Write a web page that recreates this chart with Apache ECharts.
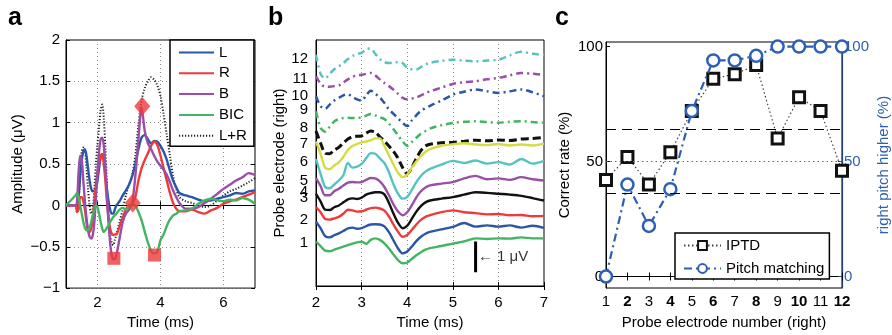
<!DOCTYPE html>
<html><head><meta charset="utf-8">
<script src="https://cdn.jsdelivr.net/npm/echarts@6/dist/echarts.min.js"></script>
<style>html,body{margin:0;padding:0;background:#fff}#c{width:892px;height:335px}</style>
</head><body><div id="c"></div>
<script>
// ---------- Panel a ----------
const timeA = [1.0,1.3,1.35,1.4,1.45,1.5,1.55,1.6,1.65,1.7,1.75,1.8,1.85,1.9,1.95,2.0,2.05,2.1,2.15,2.2,2.25,2.3,2.35,2.4,2.45,2.5,2.55,2.6,2.7,2.8,2.9,3.0,3.1,3.2,3.3,3.4,3.5,3.6,3.7,3.8,3.9,4.0,4.1,4.2,4.3,4.4,4.5,4.6,4.8,5.0,5.2,5.4,5.6,5.8,6.0,6.2,6.4,6.6,6.8,7.0];
const ampL = [0,0,0,0.1,0.35,0.55,0.65,0.68,0.6,0.45,0.3,0.2,0.17,0.18,0.2,0.3,0.45,0.58,0.62,0.58,0.4,0.2,0.05,-0.05,-0.1,-0.1,-0.05,0.0,0.05,0.12,0.18,0.25,0.35,0.5,0.68,0.82,0.85,0.8,0.75,0.78,0.77,0.72,0.65,0.55,0.42,0.3,0.22,0.15,0.12,0.1,0.07,0.05,0.06,0.08,0.1,0.12,0.15,0.14,0.17,0.18];
const ampR = [0,0,-0.08,-0.05,0.1,0.1,0.05,-0.05,-0.2,-0.3,-0.32,-0.28,-0.15,0.05,0.25,0.4,0.5,0.6,0.62,0.5,0.3,0.05,-0.15,-0.28,-0.34,-0.36,-0.35,-0.35,-0.25,-0.15,-0.05,0.0,0.02,0.1,0.3,0.45,0.55,0.63,0.72,0.77,0.73,0.6,0.45,0.3,0.15,0.03,-0.04,-0.07,-0.07,-0.05,-0.08,-0.1,-0.06,-0.03,0.02,0.05,0.07,0.1,0.13,0.16];
const ampB = [0,0,0.05,0.4,0.6,0.55,0.3,0.05,-0.15,-0.3,-0.38,-0.4,-0.36,-0.2,0.1,0.4,0.65,0.8,0.82,0.72,0.45,0.1,-0.2,-0.45,-0.6,-0.65,-0.65,-0.6,-0.4,-0.2,-0.1,-0.05,0.03,0.35,0.8,1.18,0.9,0.75,0.68,0.6,0.53,0.48,0.43,0.37,0.28,0.18,0.1,0.03,-0.04,-0.04,-0.02,0.03,0.08,0.14,0.2,0.25,0.3,0.34,0.39,0.37];
const ampBIC = [0,0.12,0.15,0.1,0.0,-0.1,-0.2,-0.27,-0.3,-0.3,-0.27,-0.2,-0.12,-0.05,0.0,-0.02,-0.1,-0.2,-0.28,-0.32,-0.3,-0.27,-0.24,-0.2,-0.17,-0.14,-0.12,-0.1,-0.05,-0.03,-0.05,-0.02,0.02,0.0,-0.08,-0.18,-0.32,-0.45,-0.55,-0.58,-0.56,-0.42,-0.35,-0.25,-0.17,-0.12,-0.1,-0.07,-0.06,-0.04,0.02,0.06,0.08,0.06,0.05,0.07,0.06,0.09,0.07,0.02];
const ampLR = [0,0,-0.08,0.05,0.45,0.65,0.7,0.68,0.45,0.2,0.0,-0.1,-0.05,0.2,0.5,0.75,0.95,1.15,1.22,1.05,0.7,0.25,-0.1,-0.35,-0.45,-0.48,-0.42,-0.35,-0.2,-0.05,0.12,0.25,0.37,0.6,0.98,1.27,1.42,1.5,1.55,1.52,1.45,1.32,1.1,0.85,0.6,0.35,0.2,0.1,0.05,0.03,0.0,-0.02,0.0,0.06,0.12,0.17,0.2,0.24,0.28,0.33];
const peakSquares = [[2.52,-0.64],[3.81,-0.6]];
const peakDiamonds = [[3.12,0.03],[3.42,1.2]];

// ---------- Panel b ----------
const timeB = [2.0,2.1,2.2,2.3,2.4,2.5,2.6,2.7,2.8,2.9,3.0,3.1,3.2,3.3,3.4,3.5,3.6,3.7,3.8,3.9,4.0,4.1,4.2,4.3,4.4,4.5,4.75,5.0,5.25,5.5,5.75,6.0,6.25,6.5,6.75,7.0];
const probe1 = [1.44,1.30,1.15,1.13,1.18,1.23,1.28,1.33,1.38,1.42,1.44,1.37,1.50,1.55,1.50,1.39,1.22,1.02,0.84,0.74,0.76,0.88,1.00,1.10,1.18,1.23,1.30,1.38,1.45,1.55,1.53,1.55,1.54,1.58,1.55,1.55];
const probe2 = [2.09,1.88,1.62,1.58,1.65,1.71,1.79,1.87,1.90,1.86,1.88,1.95,2.00,2.01,2.00,1.94,1.75,1.48,1.22,1.06,1.12,1.28,1.46,1.60,1.70,1.76,1.84,1.92,2.05,1.93,1.97,1.93,1.97,1.90,1.96,1.89];
const probe3 = [2.57,2.40,2.18,2.16,2.20,2.25,2.35,2.48,2.46,2.42,2.43,2.48,2.53,2.55,2.52,2.45,2.26,2.00,1.76,1.60,1.66,1.82,2.00,2.15,2.25,2.30,2.40,2.46,2.40,2.37,2.33,2.34,2.30,2.31,2.27,2.28];
const probe4 = [3.00,2.75,2.48,2.47,2.56,2.62,2.72,2.82,2.85,2.83,2.87,2.97,3.02,3.05,3.05,2.98,2.70,2.35,2.05,1.88,1.96,2.18,2.42,2.60,2.72,2.78,2.84,2.89,2.97,3.05,3.03,3.00,2.97,2.93,2.86,2.78];
const probe5 = [3.51,3.25,2.95,2.95,3.08,3.16,3.27,3.36,3.38,3.37,3.38,3.45,3.51,3.50,3.40,3.22,2.95,2.65,2.42,2.30,2.40,2.62,2.88,3.08,3.20,3.27,3.33,3.38,3.50,3.58,3.47,3.50,3.45,3.54,3.47,3.43];
const probe6 = [4.13,3.65,3.22,3.18,3.30,3.43,3.60,4.00,3.85,3.88,3.97,4.15,4.32,4.30,4.15,4.00,3.70,3.30,3.00,2.84,2.90,3.12,3.38,3.58,3.72,3.81,3.95,4.07,4.00,4.08,3.98,4.03,3.95,4.13,3.98,4.07];
const probe7 = [4.70,4.30,3.85,3.80,3.92,4.02,4.20,4.42,4.55,4.62,4.67,4.70,4.74,4.80,4.80,4.55,4.25,3.95,3.68,3.54,3.62,3.85,4.05,4.22,4.36,4.45,4.56,4.61,4.64,4.60,4.58,4.62,4.57,4.60,4.57,4.63];
const probe8 = [5.04,4.65,4.32,4.30,4.42,4.51,4.65,4.78,4.85,4.87,4.88,4.97,5.04,5.00,4.85,4.72,4.55,4.38,4.15,3.85,3.65,3.85,4.15,4.40,4.55,4.61,4.66,4.67,4.71,4.74,4.72,4.75,4.73,4.78,4.80,4.83];
const probe9 = [5.68,5.15,5.02,5.18,5.35,5.43,5.46,5.47,5.46,5.47,5.48,5.54,5.59,5.55,5.49,5.43,5.28,5.10,4.90,4.70,4.56,4.68,4.82,4.95,5.04,5.12,5.23,5.30,5.34,5.36,5.33,5.31,5.34,5.36,5.33,5.31];
const probe10 = [6.17,5.85,5.76,5.90,6.03,6.12,6.20,6.23,6.15,6.07,6.03,6.20,6.35,6.25,6.13,5.95,5.74,5.60,5.45,5.30,5.20,5.38,5.55,5.70,5.78,5.86,6.03,6.22,6.32,6.39,6.33,6.28,6.33,6.39,6.30,6.17];
const probe11 = [6.82,6.58,6.48,6.48,6.50,6.52,6.62,6.72,6.80,6.85,6.87,6.90,6.93,6.85,6.72,6.60,6.50,6.38,6.25,6.12,6.07,6.10,6.13,6.20,6.27,6.33,6.45,6.57,6.63,6.66,6.72,6.77,6.85,6.93,6.90,6.87];
const probe12 = [7.52,6.90,6.75,6.90,7.05,7.14,7.25,7.38,7.48,7.55,7.58,7.70,7.72,7.55,7.38,7.28,7.25,7.27,7.28,7.25,7.10,7.05,7.04,7.12,7.20,7.26,7.32,7.36,7.33,7.31,7.33,7.36,7.50,7.62,7.55,7.52];
const probeTickPos = [1.39,2.14,2.87,3.06,3.43,4.05,4.61,5.15,5.74,6.17,6.74,7.38];
const probeTickText = ['1','2','3','4','5','6','7','8','9','10','11','12'];
const scaleBar = [[5.5,0.45],[5.5,1.45]];
const scaleBarLabelAt = [[5.55,0.95]];

// ---------- Panel c ----------
const electrodes = [1,2,3,4,5,6,7,8,9,10,11,12];
const iptdCorrect = [42,52,40,54,72,86,88,92,60,78,72,46];
const pitchHigher = [0,40,22,38,72,94,94,96,100,100,100,100];
const chanceBounds = [36,64];
const chanceLevel = 50;

// ---------- styles ----------
const FONT = 'Liberation Sans, Arial, Helvetica, sans-serif';
const C = {L:'#2a56a8', R:'#ee3a3a', B:'#9b4ea6', BIC:'#43b461', LR:'#222'};
const probeColors = ['#43b461','#2a56a8','#ee3a3a','#111111','#9b4ea6','#55c4c0','#d6dc40','#111111','#43b461','#2a56a8','#9b4ea6','#55c4c0'];
const probeDash = ['solid','solid','solid','solid','solid','solid','solid',[8,4],[7,4,2,4],[7,4,2,4],[7,4,2,4],[7,4,2,4]];
const probeWidth = [2.4,2.4,2.4,2.4,2.4,2.4,2.4,3,2.5,2.5,2.5,2.5];
const BLUE = '#2d5fb3';

const pairs = (xs, ys) => xs.map((x,i)=>[x, ys[i]]);
const txt = {fontFamily: FONT, fontSize: 15, color: '#000'};
const minus = v => String(v).replace('-', '\u2212');

const probes = [probe1,probe2,probe3,probe4,probe5,probe6,probe7,probe8,probe9,probe10,probe11,probe12];

const series = [];
// panel a
[['L',ampL,C.L,'solid'],['R',ampR,C.R,'solid'],['B',ampB,C.B,'solid'],['BIC',ampBIC,C.BIC,'solid'],['L+R',ampLR,C.LR,[1.2,1.8]]].forEach(([n,arr,col,type])=>{
  series.push({name:n, type:'line', xAxisIndex:0, yAxisIndex:0, data:pairs(timeA,arr), showSymbol:false, symbol:'none', smooth:0.3,
    lineStyle:{color:col, width: n==='L+R'?2:2.4, type}, itemStyle:{color:col}, z: n==='L+R'?1:2});
});
series.push({type:'scatter', xAxisIndex:0, yAxisIndex:0, data:peakSquares, symbol:'rect', symbolSize:13, itemStyle:{color:'#ee3a3a'}, z:5});
series.push({type:'scatter', xAxisIndex:0, yAxisIndex:0, data:peakDiamonds, symbol:'diamond', symbolSize:[16,19], itemStyle:{color:'#ee3a3a'}, z:5});
// panel b
probes.forEach((arr,i)=>{
  series.push({name:'E'+(i+1), type:'line', xAxisIndex:2, yAxisIndex:2, data:pairs(timeB,arr), showSymbol:false, symbol:'none', smooth:0.3,
    lineStyle:{color:probeColors[i], width:probeWidth[i], type:probeDash[i]}, z: 12-i});
});
series.push({type:'line', xAxisIndex:2, yAxisIndex:2, data:scaleBar, symbol:'none', lineStyle:{color:'#000', width:3}});
series.push({type:'scatter', xAxisIndex:2, yAxisIndex:2, data:scaleBarLabelAt, symbolSize:0,
  label:{show:true, position:'right', distance:0, formatter:'\u2190 1 \u03bcV', fontFamily:FONT, fontSize:15, color:'#000'}});
// panel c
series.push({name:'IPTD', type:'line', xAxisIndex:4, yAxisIndex:4, data:pairs(electrodes,iptdCorrect), symbol:'rect', symbolSize:11,
  lineStyle:{color:'#444', width:1.2, type:[1.5,2.5]}, itemStyle:{color:'#fff', borderColor:'#111', borderWidth:3}, z:3,
  markLine:{silent:true, symbol:'none', label:{show:false}, animation:false,
    data:[{yAxis:chanceBounds[0], lineStyle:{type:[10,6], color:'#000', width:1}},
          {yAxis:chanceBounds[1], lineStyle:{type:[10,6], color:'#000', width:1}},
          {yAxis:chanceLevel, lineStyle:{type:[1.5,3], color:'#666', width:1}}]}});
series.push({name:'Pitch matching', type:'line', xAxisIndex:4, yAxisIndex:5, data:pairs(electrodes,pitchHigher), symbol:'circle', symbolSize:12,
  lineStyle:{color:BLUE, width:2.2, type:[8,4,2,4]}, itemStyle:{color:'#fff', borderColor:BLUE, borderWidth:2.5}, z:4});

const baseAxis = {axisLine:{lineStyle:{color:'#000', width:1}}, axisTick:{inside:true, length:4, lineStyle:{color:'#000'}},
  axisLabel:{...txt}, nameTextStyle:{...txt}, splitLine:{show:false}};

const option = {
  animation:false,
  textStyle:{fontFamily:FONT},
  grid:[
    {left:66, top:40, width:189, height:251, show:true, borderColor:'#000', borderWidth:1, backgroundColor:'transparent'},
    {left:316, top:40, width:228, height:248, show:true, borderColor:'#000', borderWidth:1},
    {left:606, top:42, width:237, height:251, show:true, borderColor:'#000', borderWidth:1}
  ],
  xAxis:[
    {...baseAxis, gridIndex:0, type:'value', min:1, max:7, name:'Time (ms)', nameLocation:'middle', nameGap:26,
      axisTick:{...baseAxis.axisTick, customValues:[2,4,6]}, axisLabel:{...txt, margin:7, customValues:[2,4,6]},
      splitLine:{show:true, lineStyle:{color:'#888', type:[1,3]}}},
    {gridIndex:0, type:'value', position:'top', min:1, max:7, axisLine:{show:false}, axisLabel:{show:false},
      axisTick:{inside:true, length:4, customValues:[2,4,6], lineStyle:{color:'#000'}}, splitLine:{show:false}},
    {...baseAxis, gridIndex:1, type:'value', min:2, max:7, interval:1, name:'Time (ms)', nameLocation:'middle', nameGap:29,
      axisLabel:{...txt, margin:9}, splitLine:{show:true, lineStyle:{color:'#888', type:[1,3]}}},
    {gridIndex:1, type:'value', position:'top', min:2, max:7, interval:1, axisLine:{show:false}, axisLabel:{show:false},
      axisTick:{inside:true, length:4, lineStyle:{color:'#000'}}, splitLine:{show:false}},
    {...baseAxis, gridIndex:2, type:'value', min:1, max:12, interval:1, name:'Probe electrode number (right)', nameLocation:'middle', nameGap:27,
      axisLabel:{...txt, margin:6, formatter: v => (v % 2 === 0 ? '{b|' + v + '}' : String(v)), rich:{b:{fontFamily:FONT, fontSize:15, fontWeight:'bold', color:'#000'}}}},
    {gridIndex:2, type:'value', position:'top', min:1, max:12, interval:1, axisLine:{show:false}, axisLabel:{show:false},
      axisTick:{inside:true, length:4, lineStyle:{color:'#000'}}, splitLine:{show:false}}
  ],
  yAxis:[
    {...baseAxis, gridIndex:0, type:'value', min:-1, max:2, interval:0.5, name:'Amplitude (\u03bcV)', nameLocation:'middle', nameGap:41,
      axisLabel:{...txt, margin:6, formatter: minus}, splitLine:{show:true, lineStyle:{color:'#888', type:[1,3]}}},
    {gridIndex:0, type:'value', position:'right', min:-1, max:2, interval:0.5, axisLine:{show:false}, axisLabel:{show:false},
      axisTick:{inside:true, length:4, lineStyle:{color:'#000'}}, splitLine:{show:false}},
    {...baseAxis, gridIndex:1, type:'value', min:0, max:8, name:'Probe electrode (right)', nameLocation:'middle', nameGap:26,
      axisTick:{show:false}, axisLabel:{...txt, margin:8, customValues:probeTickPos,
        formatter: v => { let k=0, d=1e9; probeTickPos.forEach((p,i)=>{ if (Math.abs(p-v)<d){d=Math.abs(p-v);k=i;} }); return probeTickText[k]; }}},
    {gridIndex:1, type:'value', position:'right', min:0, max:8, show:false},
    {...baseAxis, gridIndex:2, type:'value', min:-5, max:102, name:'Correct rate (%)', nameLocation:'middle', nameGap:34,
      axisTick:{...baseAxis.axisTick, customValues:[0,50,100]}, axisLabel:{...txt, margin:3, customValues:[0,50,100]}},
    {gridIndex:2, type:'value', position:'right', min:-5, max:102, name:'right pitch higher (%)', nameLocation:'middle', nameGap:34, nameRotate:90,
      nameTextStyle:{...txt, color:BLUE}, axisLine:{show:true, lineStyle:{color:'#23407a', width:1.2}},
      axisTick:{inside:true, length:4, customValues:[0,50,100], lineStyle:{color:'#23407a'}},
      axisLabel:{...txt, color:BLUE, margin:2, customValues:[0,50,100]}, splitLine:{show:false}}
  ],
  legend:[
    {data:['L','R','B','BIC','L+R'], left:170, top:40, orient:'vertical', itemWidth:35, itemHeight:14, itemGap:5.8, padding:[5,7,3,8],
      backgroundColor:'#fff', borderColor:'#000', borderWidth:1.5, borderRadius:0, textStyle:{...txt}, selectedMode:false,
      itemStyle:{opacity:0}},
    {data:['IPTD','Pitch matching'], left:675, top:233, orient:'vertical', itemWidth:37, itemHeight:11, itemGap:8, padding:[5,5,3,8],
      backgroundColor:'#fff', borderColor:'#000', borderWidth:1.5, borderRadius:0, textStyle:{...txt}, selectedMode:false}
  ],
  graphic:[
    {type:'text', left:8, top:6, style:{text:'a', font:'bold 25px '+FONT, fill:'#000'}},
    {type:'text', left:268, top:6, style:{text:'b', font:'bold 25px '+FONT, fill:'#000'}},
    {type:'text', left:555, top:6, style:{text:'c', font:'bold 25px '+FONT, fill:'#000'}}
  ],
  series
};
const chart = echarts.init(document.getElementById('c'), null, {renderer:'canvas'});
chart.setOption(option);
</script></body></html>
